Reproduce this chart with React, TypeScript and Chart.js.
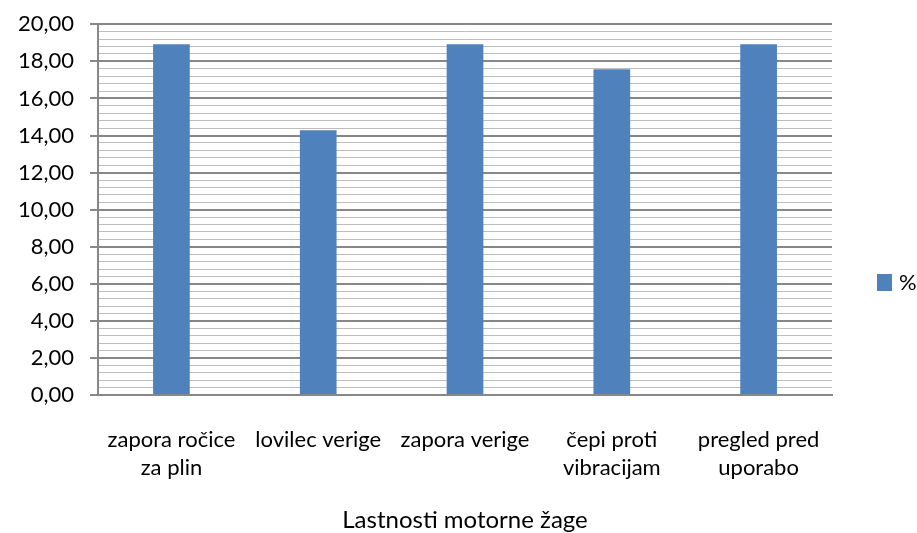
import React, { useEffect, useRef } from "react";
import { Chart, registerables } from "chart.js";

Chart.register(...registerables);

const categories: string[][] = [
  ["zapora ročice", "za plin"],
  ["lovilec verige"],
  ["zapora verige"],
  ["čepi proti", "vibracijam"],
  ["pregled pred", "uporabo"],
];
const seriesName = "%";
const values = [18.92, 14.29, 18.92, 17.57, 18.92];
const yMin = 0;
const yMax = 20;
const minorStep = 0.4;
const majorStep = 2;
const xTitle = "Lastnosti motorne žage";

const FONT = "Lato, 'Open Sans', sans-serif";
const BAR_COLOR = "#4f81bd";

function isMajor(v: number) {
  const r = v / majorStep;
  return Math.abs(r - Math.round(r)) < 1e-6;
}

const rightLegend = {
  id: "rightLegend",
  afterDraw(chart: any) {
    const { ctx, chartArea } = chart;
    const ds = chart.data.datasets[0];
    const x = chartArea.right + 45;
    const y = 274;
    ctx.save();
    ctx.fillStyle = ds.backgroundColor;
    ctx.fillRect(x, y, 15, 17);
    ctx.fillStyle = "#000";
    ctx.font = `22px ${FONT}`;
    ctx.textBaseline = "middle";
    ctx.textAlign = "left";
    ctx.fillText(ds.label, x + 22, y + 9);
    ctx.restore();
  },
};

export default function App() {
  const ref = useRef<HTMLCanvasElement | null>(null);
  useEffect(() => {
    document.body.style.margin = "0";
    const ctx = ref.current!.getContext("2d")!;
    const chart = new Chart(ctx, {
      type: "bar",
      data: {
        labels: categories,
        datasets: [
          {
            label: seriesName,
            data: values,
            backgroundColor: BAR_COLOR,
            borderWidth: 0,
            categoryPercentage: 1,
            barPercentage: 0.25,
          },
        ],
      },
      plugins: [rightLegend],
      options: {
        animation: false,
        responsive: false,
        maintainAspectRatio: false,
        layout: { padding: { top: 0, right: 85, left: 2, bottom: 1 } },
        plugins: {
          title: { display: false },
          tooltip: { enabled: false },
          legend: { display: false },
        },
        scales: {
          x: {
            grid: { display: false, drawTicks: false },
            border: { display: true, color: "#878787", width: 2 },
            ticks: {
              color: "#000",
              font: { family: FONT, size: 22, lineHeight: 1.27 },
              padding: 31,
              maxRotation: 0,
              minRotation: 0,
              autoSkip: false,
            },
            title: {
              display: true,
              text: xTitle,
              color: "#000",
              font: { family: FONT, size: 24, lineHeight: 1 },
              padding: { top: -5, bottom: 0 },
            },
          },
          y: {
            min: yMin,
            max: yMax,
            ticks: {
              stepSize: minorStep,
              autoSkip: false,
              color: "#000",
              font: { family: FONT, size: 22, lineHeight: 0.75 },
              padding: 16,
              callback: (v: any) =>
                isMajor(Number(v)) ? Number(v).toFixed(2).replace(".", ",") : "",
            },
            grid: {
              color: (c: any) => (isMajor(c.tick.value) ? "#878787" : "#bdbdbd"),
              lineWidth: (c: any) => (isMajor(c.tick.value) ? 2 : 1),
              tickColor: (c: any) => (isMajor(c.tick.value) ? "#878787" : "rgba(0,0,0,0)"),
              tickLength: 8,
            },
            border: { display: true, color: "#878787", width: 2 },
          },
        },
      },
    });
    return () => chart.destroy();
  }, []);
  return (
    <div style={{ width: 917, height: 533, background: "#fff" }}>
      <canvas ref={ref} width={917} height={533} style={{ display: "block" }} />
    </div>
  );
}
